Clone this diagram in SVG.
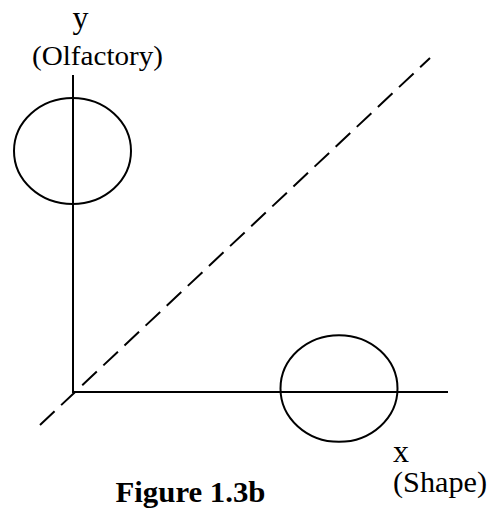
<svg xmlns="http://www.w3.org/2000/svg" width="490" height="508" viewBox="0 0 490 508">
<style>
.ln{stroke:#000;stroke-width:2;fill:none}
.t{font-family:"Liberation Serif","Times New Roman",serif;fill:#000}
</style>
<rect width="490" height="508" fill="#fff"/>
<g id="connectors">
<line class="ln" x1="73" y1="75" x2="73" y2="393"/>
<line class="ln" x1="72" y1="392" x2="448" y2="392"/>
<line class="ln" x1="40" y1="425" x2="430" y2="58" stroke-dasharray="20 9"/>
</g>
<g id="circle-y"><ellipse class="ln" cx="72.5" cy="151" rx="58.5" ry="53"/></g>
<g id="circle-x"><ellipse class="ln" cx="339" cy="388.5" rx="58.5" ry="53.3"/></g>
<g id="label-y">
<text class="t" x="72.5" y="28" font-size="32">y</text>
<text class="t" x="32" y="65" font-size="28" textLength="131" lengthAdjust="spacingAndGlyphs">(Olfactory)</text>
</g>
<g id="label-x">
<text class="t" x="393" y="462" font-size="32">x</text>
<text class="t" x="393" y="492" font-size="29" textLength="94" lengthAdjust="spacingAndGlyphs">(Shape)</text>
</g>
<g id="caption"><text class="t" x="115.5" y="502" font-size="29" font-weight="bold" textLength="150" lengthAdjust="spacingAndGlyphs">Figure 1.3b</text></g>
</svg>
